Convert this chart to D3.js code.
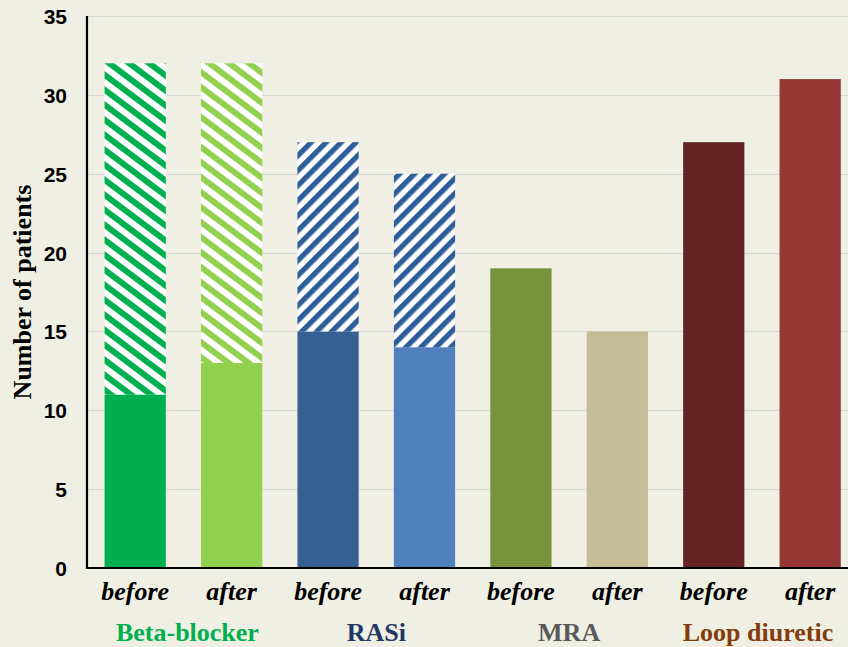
<!DOCTYPE html>
<html><head><meta charset="utf-8">
<script src="https://cdn.jsdelivr.net/npm/d3@7"></script>
<style>html,body{margin:0;padding:0;background:#EFEFE4;}svg{display:block;}</style>
</head><body>
<script>
const barLabels = ["before","after","before","after","before","after","before","after"];
const groups = ["Beta-blocker","RASi","MRA","Loop diuretic"];
const groupColors = ["#00B050","#1F3864","#595959","#843C0C"];
const solidValues = [11,13,15,14,19,15,27,31];
const totalValues = [32,32,27,25,19,15,27,31];
const barColors = ["#00B050","#92D050","#376092","#4F81BD","#77933C","#C4BD97","#632423","#953735"];
const hatchColors = ["#00B050","#92D050","#2E5E99","#2E5E99",null,null,null,null];
const yTicks = [0,5,10,15,20,25,30,35];

const W = 848, H = 647;
const svg = d3.select("body").append("svg").attr("width",W).attr("height",H);
svg.append("rect").attr("width",W).attr("height",H).attr("fill","#EFEFE4");

const x0 = 87, xEnd = 858.4, yTop = 16, yBot = 568;
const idx = d3.range(barLabels.length);
const x = d3.scaleBand().domain(idx).range([x0, xEnd]).paddingInner(0.365).paddingOuter(0.1825);
const y = d3.scaleLinear().domain([0,35]).range([yBot, yTop]);

// patterns
const defs = svg.append("defs");
idx.forEach(i => {
  if (!hatchColors[i]) return;
  const green = i < 2;
  const p = green ? 12 : 10.6;
  const pat = defs.append("pattern").attr("id","h"+i)
    .attr("patternUnits","userSpaceOnUse").attr("width",p).attr("height",p)
    .attr("patternTransform", green ? "rotate(-53.1)" : "rotate(45)");
  pat.append("rect").attr("width",p).attr("height",p).attr("fill","#fff");
  pat.append("rect").attr("width",p*0.5).attr("height",p).attr("fill",hatchColors[i]);
});

// gridlines
svg.append("g").selectAll("line").data(yTicks.filter(t=>t>0)).join("line")
  .attr("x1",x0).attr("x2",W).attr("y1",d=>Math.round(y(d))+0.5).attr("y2",d=>Math.round(y(d))+0.5)
  .attr("stroke","#D6D6D6").attr("stroke-width",1);

// bars
const g = svg.append("g");
idx.forEach(i => {
  g.append("rect").attr("x",x(i)).attr("width",x.bandwidth())
    .attr("y",y(solidValues[i])).attr("height",y(0)-y(solidValues[i]))
    .attr("fill",barColors[i]);
  if (totalValues[i] > solidValues[i]) {
    g.append("rect").attr("x",x(i)).attr("width",x.bandwidth())
      .attr("y",y(totalValues[i])).attr("height",y(solidValues[i])-y(totalValues[i]))
      .attr("fill","url(#h"+i+")");
  }
});

// y axis
const yAxis = d3.axisLeft(y).tickValues(yTicks).tickSize(0).tickPadding(20);
const ya = svg.append("g").attr("transform",`translate(${x0},0)`).call(yAxis);
ya.select(".domain").remove();
ya.selectAll("text").attr("font-family","'Liberation Sans',Arial,sans-serif")
  .attr("font-weight","bold").attr("font-size","21px").attr("fill","#000").attr("dy","0.36em");
svg.append("line").attr("x1",x0).attr("x2",x0).attr("y1",yTop).attr("y2",yBot+1)
  .attr("stroke","#000").attr("stroke-width",2.2);
// x axis
const xAxis = d3.axisBottom(x).tickFormat(i=>barLabels[i]).tickSize(0).tickPadding(14);
const xa = svg.append("g").attr("transform",`translate(0,${yBot})`).call(xAxis);
xa.select(".domain").remove();
xa.selectAll("text").attr("font-family","'Liberation Serif','Times New Roman',serif")
  .attr("font-weight","bold").attr("font-style","italic").attr("font-size","26px").attr("fill","#000");
svg.append("line").attr("x1",x0-1).attr("x2",W).attr("y1",yBot).attr("y2",yBot)
  .attr("stroke","#000").attr("stroke-width",2.2);

// group labels
groups.forEach((name,k) => {
  const cx = (x(2*k) + x(2*k+1) + x.bandwidth())/2;
  const nudge = k===0 ? 4 : (k===3 ? -4 : 0);
  svg.append("text").attr("x",cx + nudge).attr("y",641).attr("text-anchor","middle")
    .attr("font-family","'Liberation Serif','Times New Roman',serif").attr("font-weight","bold")
    .attr("font-size","26px").attr("fill",groupColors[k]).text(name);
});

// y title
svg.append("text").attr("transform","translate(31,292) rotate(-90)").attr("text-anchor","middle")
  .attr("font-family","'Liberation Serif','Times New Roman',serif").attr("font-weight","bold")
  .attr("font-size","26px").attr("fill","#000").text("Number of patients");
</script>
</body></html>
